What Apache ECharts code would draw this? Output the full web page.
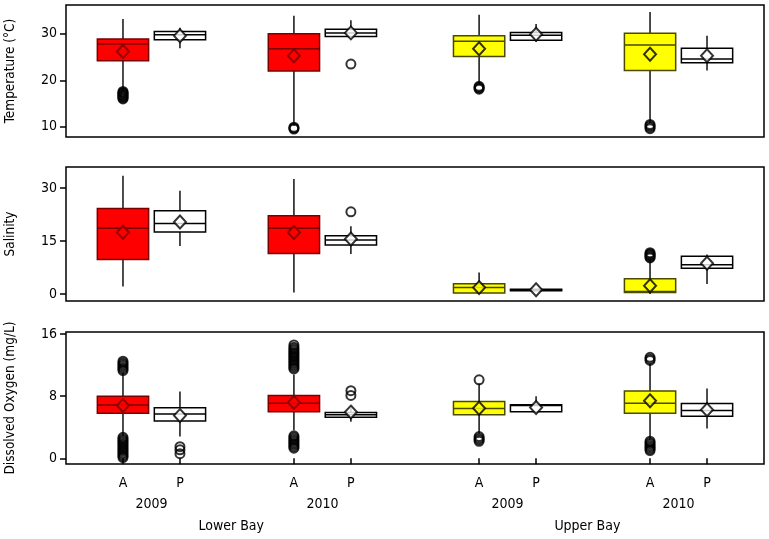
<!DOCTYPE html>
<html><head><meta charset="utf-8">
<script src="https://cdn.jsdelivr.net/npm/echarts@6/dist/echarts.min.js"></script>
<style>html,body{margin:0;padding:0;background:#fff}#c{width:769px;height:539px}</style>
</head><body><div id="c"></div>
<script>
// ---- data ----
const periods = ['A','P','A','P','A','P','A','P'];
const years = ['2009','2010','2009','2010'];
const bays = ['Lower Bay','Upper Bay'];

// box stats: [min, q1, median, q3, max]
const tempBoxes = [
  [17.8, 24.2, 27.8, 28.9, 33.2],
  [26.9, 28.7, 29.8, 30.5, 31.3],
  [10.2, 22.0, 26.8, 30.0, 33.9],
  [29.4, 29.4, 30.2, 31.0, 32.9],
  [19.0, 25.1, 28.4, 29.6, 34.1],
  [28.3, 28.6, 29.7, 30.3, 32.1],
  [10.8, 22.1, 27.6, 30.1, 34.7],
  [22.1, 23.8, 24.6, 26.9, 29.6]
];
const tempMeans = [26.2, 29.6, 25.3, 30.2, 26.8, 29.9, 25.6, 25.3];
const tempOutliers = [
  [17.6, 17.4, 17.2, 17.0, 16.8, 16.6, 16.4, 16.2, 16.0],
  [],
  [9.9, 9.7, 9.5],
  [23.5],
  [18.7, 18.5, 18.3, 18.1],
  [],
  [10.5, 10.2, 9.9, 9.6],
  []
];

const salBoxes = [
  [2.1, 9.8, 18.6, 24.2, 33.5],
  [13.6, 17.6, 20.0, 23.6, 29.3],
  [0.4, 11.5, 18.6, 22.2, 32.6],
  [11.3, 13.9, 15.3, 16.5, 19.2],
  [0.0, 0.3, 1.8, 2.9, 6.1],
  [0.9, 0.9, 1.1, 1.3, 1.3],
  [0.0, 0.4, 0.7, 4.3, 9.6],
  [2.8, 7.3, 8.3, 10.7, 11.2]
];
const salMeans = [17.5, 20.4, 17.4, 15.6, 1.8, 1.2, 2.3, 8.7];
const salOutliers = [[], [], [], [23.3], [], [], [10.2, 10.5, 10.8, 11.1, 11.4, 11.7], []];

const doBoxes = [
  [2.9, 5.8, 6.85, 8.0, 11.0],
  [2.8, 4.8, 5.7, 6.5, 8.6],
  [3.6, 6.0, 7.1, 8.1, 10.8],
  [4.7, 5.3, 5.6, 5.9, 6.5],
  [3.2, 5.6, 6.4, 7.3, 9.6],
  [5.9, 6.0, 6.8, 6.9, 8.0],
  [2.4, 5.8, 7.1, 8.65, 12.2],
  [3.85, 5.4, 6.16, 7.06, 9.0]
];
const doMeans = [6.8, 5.5, 7.2, 5.95, 6.45, 6.55, 7.4, 6.25];
const doOutliers = [
  [11.3, 11.5, 11.7, 11.9, 12.1, 12.3, 12.5, 2.7, 2.5, 2.3, 2.1, 1.9, 1.7, 1.5, 1.3, 1.1, 0.9, 0.7, 0.5, 0.3, 0.1],
  [1.5, 1.1, 0.6],
  [11.5, 11.7, 11.9, 12.1, 12.3, 12.5, 12.7, 12.9, 13.1, 13.3, 13.5, 13.7, 13.9, 14.1, 14.3, 14.6, 2.9, 2.7, 2.5, 2.3, 2.1, 1.9, 1.7, 1.5, 1.3],
  [8.7, 8.1],
  [10.1, 2.8, 2.6, 2.4, 2.2],
  [],
  [12.6, 12.8, 13.0, 2.2, 2.0, 1.8, 1.6, 1.4, 1.2, 1.0],
  []
];

const tempTicks = [10, 20, 30];
const salTicks = [0, 15, 30];
const doTicks = [0, 8, 16];

// ---- layout helpers ----
const FONT = "'DejaVu Sans Condensed', 'DejaVu Sans', sans-serif";
function posOf(i) { return 1 + (i % 2) + Math.floor(i / 2) * 3 + Math.floor(i / 4) * 0.25; }
const xs = periods.map((_, i) => posOf(i));
const yearPos = years.map((_, g) => (posOf(2 * g) + posOf(2 * g + 1)) / 2);
const bayPos = bays.map((_, b) => (posOf(4 * b) + posOf(4 * b + 3)) / 2 - 0.1);
function findIdx(arr, v) { return arr.findIndex(p => Math.abs(p - v) < 1e-6); }

function styleOf(i) {
  const isA = i % 2 === 0;
  const bay = Math.floor(i / 4);
  if (!isA) return { fill: '#ffffff', stroke: '#000000', dia: '#000000' };
  if (bay === 0) return { fill: '#ff0000', stroke: '#7a0000', dia: '#7a0000' };
  return { fill: '#ffff00', stroke: '#4a4a00', dia: '#000000' };
}

function boxRender(params, api) {
  const x = api.value(0);
  const idx = api.value(6);
  const st = styleOf(idx);
  const c = v => api.coord([x, v]);
  const half = api.size([0.9, 0])[0] / 2;
  const pMin = c(api.value(1)), pQ1 = c(api.value(2)), pMed = c(api.value(3)),
        pQ3 = c(api.value(4)), pMax = c(api.value(5));
  const wl = { stroke: '#111', lineWidth: 1.5 };
  return {
    type: 'group',
    children: [
      { type: 'line', shape: { x1: pMin[0], y1: pMin[1], x2: pQ1[0], y2: pQ1[1] }, style: wl },
      { type: 'line', shape: { x1: pQ3[0], y1: pQ3[1], x2: pMax[0], y2: pMax[1] }, style: wl },
      { type: 'rect', shape: { x: pQ3[0] - half, y: pQ3[1], width: half * 2, height: Math.max(pQ1[1] - pQ3[1], 1) },
        style: { fill: st.fill, stroke: st.stroke, lineWidth: 1.5 } },
      { type: 'line', shape: { x1: pMed[0] - half, y1: pMed[1], x2: pMed[0] + half, y2: pMed[1] },
        style: { stroke: st.stroke, lineWidth: 1.5 } }
    ]
  };
}

function panelSeries(gi, boxes, means, outliers) {
  const boxData = boxes.map((b, i) => [xs[i], b[0], b[1], b[2], b[3], b[4], i]);
  const outData = [];
  outliers.forEach((arr, i) => arr.forEach(v => outData.push([xs[i], v])));
  const meanData = means.map((m, i) => {
    const st = styleOf(i);
    return { value: [xs[i], m], itemStyle: { color: st.fill, borderColor: st.dia, borderWidth: 2 } };
  });
  return [
    { type: 'custom', xAxisIndex: gi, yAxisIndex: gi, renderItem: boxRender,
      encode: { x: 0, y: [1, 2, 3, 4, 5] }, data: boxData, silent: true, clip: false },
    { type: 'scatter', xAxisIndex: gi, yAxisIndex: gi, symbol: 'circle', symbolSize: 9,
      itemStyle: { color: 'rgba(0,0,0,0)', borderColor: '#000', borderWidth: 2 },
      data: outData, silent: true, z: 3 },
    { type: 'scatter', xAxisIndex: gi, yAxisIndex: gi, symbol: 'diamond', symbolSize: [12, 13],
      data: meanData, silent: true, z: 4 }
  ];
}

const grids = [
  { left: 66, top: 5, width: 698, height: 132 },
  { left: 66, top: 167, width: 698, height: 134 },
  { left: 66, top: 332, width: 698, height: 132 }
].map(g => Object.assign(g, { show: true, borderColor: '#000', borderWidth: 1.5, backgroundColor: '#fff',
  containLabel: false, outerBoundsMode: 'none' }));

function baseX(gi) {
  return { type: 'value', gridIndex: gi, position: 'bottom', offset: 0, min: 0, max: 12.25, axisLine: { show: false },
    axisTick: { show: false }, axisLabel: { show: false }, splitLine: { show: false } };
}

function yAx(gi, min, max, ticks, name) {
  return {
    type: 'value', gridIndex: gi, position: 'left', min: min, max: max,
    name: name, nameLocation: 'middle', nameGap: 49,
    nameTextStyle: { fontFamily: FONT, fontSize: 13.5, color: '#000' },
    axisLine: { show: false },
    axisTick: { show: true, length: 6, customValues: ticks, lineStyle: { color: '#000', width: 1.5 } },
    axisLabel: { customValues: ticks, margin: 9, fontFamily: FONT, fontSize: 14, color: '#000' },
    splitLine: { show: false }
  };
}

const option = {
  animation: false,
  backgroundColor: '#fff',
  grid: grids,
  xAxis: [
    baseX(0), baseX(1),
    Object.assign(baseX(2), {
      axisTick: { show: true, length: 6, customValues: xs, lineStyle: { color: '#000', width: 1.5 } },
      axisLabel: { show: true, customValues: xs, margin: 12, fontFamily: FONT, fontSize: 14, color: '#000',
        formatter: v => periods[findIdx(xs, v)] }
    }),
    Object.assign(baseX(2), {
      axisLabel: { show: true, customValues: yearPos, margin: 33, fontFamily: FONT, fontSize: 14, color: '#000',
        formatter: v => years[findIdx(yearPos, v)] }
    }),
    Object.assign(baseX(2), {
      axisLabel: { show: true, customValues: bayPos, margin: 55, fontFamily: FONT, fontSize: 14, color: '#000',
        formatter: v => bays[findIdx(bayPos, v)] }
    })
  ],
  yAxis: [
    yAx(0, 7.8, 36.2, tempTicks, 'Temperature (°C)'),
    yAx(1, -2, 36, salTicks, 'Salinity'),
    yAx(2, -0.73, 16.26, doTicks, 'Dissolved Oxygen (mg/L)')
  ],
  series: [].concat(
    panelSeries(0, tempBoxes, tempMeans, tempOutliers),
    panelSeries(1, salBoxes, salMeans, salOutliers),
    panelSeries(2, doBoxes, doMeans, doOutliers)
  )
};

const chart = echarts.init(document.getElementById('c'), null, { renderer: 'canvas' });
chart.setOption(option);
</script>
</body></html>
